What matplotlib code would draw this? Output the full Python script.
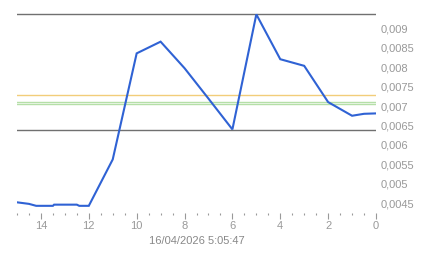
import matplotlib

matplotlib.use("Agg")
import matplotlib.pyplot as plt
from matplotlib.ticker import FixedLocator, MultipleLocator

# minutes ago (x axis runs 15 -> 0) and value
ago = [15, 14.5, 14.2, 13.5, 13.45, 12.5, 12.4, 12, 11, 10, 9, 8, 7, 6, 5, 4, 3, 2, 1, 0.5, 0]
values = [0.00453, 0.00449, 0.00444, 0.00444, 0.00447, 0.00447, 0.00444, 0.00444,
          0.00563, 0.00835, 0.00865, 0.00797, 0.00719, 0.00640, 0.00935, 0.00820,
          0.00803, 0.00710, 0.00675, 0.00680, 0.00681]

band_high = 0.00935
band_low = 0.00638
orange_level = 0.00729
green_levels = [0.00711, 0.00704]

y_ticks = [0.0045, 0.005, 0.0055, 0.006, 0.0065, 0.007, 0.0075, 0.008, 0.0085, 0.009]
x_ticks = [14, 12, 10, 8, 6, 4, 2, 0]
timestamp = "16/04/2026 5:05:47"

plt.rcParams["font.family"] = ["Liberation Sans", "DejaVu Sans"]

fig = plt.figure(figsize=(4.43, 2.58), dpi=100)
W, H = 443, 258
left, right, top, bottom = 17, 376, 10, 213
ax = fig.add_axes([left / W, 1 - bottom / H, (right - left) / W, (bottom - top) / H])

ax.axhline(band_high, color="#707070", lw=1.0, zorder=2)
ax.axhline(band_low, color="#707070", lw=1.0, zorder=2)
ax.axhline(orange_level, color="#f2cd7a", lw=1.0, zorder=2)
for g in green_levels:
    ax.axhline(g, color="#b5dfa8", lw=1.0, zorder=2)

ax.plot(ago, values, color="#2f62d4", lw=1.5, zorder=3, solid_joinstyle="miter")

ax.set_xlim(15, 0)
ax.set_ylim(0.004256, 0.009462)

for s in ax.spines.values():
    s.set_visible(False)

ax.xaxis.set_major_locator(FixedLocator(x_ticks))
ax.xaxis.set_minor_locator(MultipleLocator(0.5))
ax.tick_params(axis="x", which="major", length=4, width=0.8, color="#999999",
               labelcolor="#999999", labelsize=8, pad=2)
ax.tick_params(axis="x", which="minor", length=1.5, width=0.8, color="#999999")

ax.yaxis.tick_right()
ax.set_yticks(y_ticks)
ax.set_yticklabels([f"{v:g}".replace(".", ",") for v in y_ticks])
ax.tick_params(axis="y", length=0, labelcolor="#999999", labelsize=8, pad=3)

ax.set_xlabel(timestamp, fontsize=8, color="#888888", labelpad=3)

fig.savefig("out.png", dpi=100)
